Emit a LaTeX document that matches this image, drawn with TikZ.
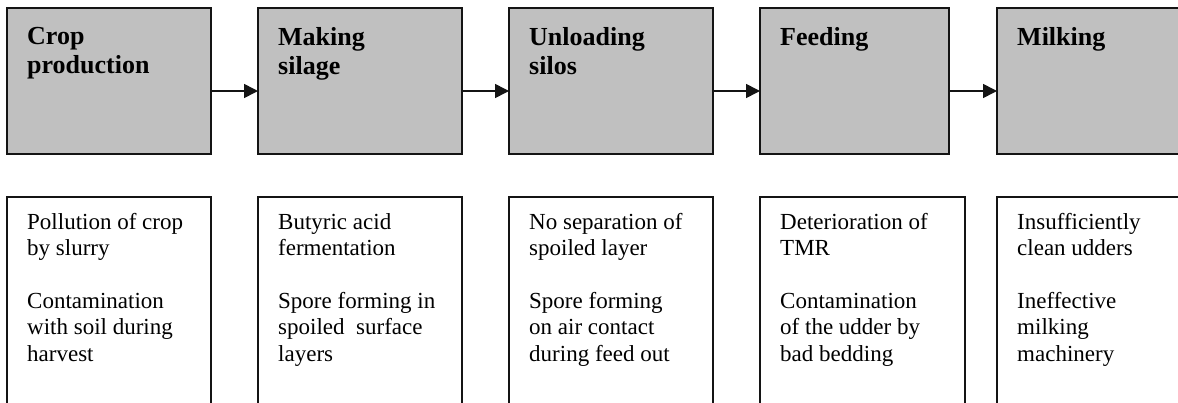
\documentclass[tikz,border=0pt]{standalone}
\usepackage{fontspec}
\setmainfont{Liberation Serif}
\usepackage{tikz}
\usetikzlibrary{
  arrows.meta,
  positioning
}
\definecolor{StageGray}{RGB}{192,192,192}
\definecolor{EdgeBlack}{RGB}{20,20,20}
\tikzset{
  stagebox/.style={draw=EdgeBlack,fill=StageGray,line width=1.6pt,outer sep=0pt,minimum height=146pt,minimum width=204pt},
  riskbox/.style={draw=EdgeBlack,fill=white,line width=1.6pt,outer sep=0pt,minimum height=230pt,minimum width=204pt},
  headtext/.style={inner sep=0pt,align=left,font=\fontsize{26}{29}\selectfont\bfseries},
  risktext/.style={inner sep=0pt,align=left,font=\fontsize{23}{26.5}\selectfont},
  flowarrow/.style={-{Triangle[length=14pt,width=14pt]},line width=1.6pt,draw=EdgeBlack}
}

\begin{document}
\begin{tikzpicture}[x=1pt,y=-1pt]
\useasboundingbox (0,0) rectangle (1178,402);
\clip (0,0) rectangle (1178,402);
\node[stagebox, anchor=north west] (crop) at (7,8) {};
\node[stagebox, right=47pt of crop] (silage) {};
\node[stagebox, right=47pt of silage] (unload) {};
\node[stagebox, right=47pt of unload, minimum width=189pt] (feed) {};
\node[stagebox, right=48pt of feed] (milk) {};
\node[riskbox, below=43pt of crop] (croprisk) {};
\node[riskbox, below=43pt of silage] (silagerisk) {};
\node[riskbox, below=43pt of unload] (unloadrisk) {};
\node[riskbox, below=43pt of feed.south west, anchor=north west, minimum width=205pt] (feedrisk) {};
\node[riskbox, below=43pt of milk.south west, anchor=north west] (milkrisk) {};
\node[headtext, below right=19pt and 20pt of crop.north west] (crophead) {Crop\\production};
\node[headtext, below right=19pt and 20pt of silage.north west] (silagehead) {Making\\silage};
\node[headtext, below right=19pt and 20pt of unload.north west] (unloadhead) {Unloading\\silos};
\node[headtext, below right=19pt and 20pt of feed.north west] (feedhead) {Feeding};
\node[headtext, below right=19pt and 20pt of milk.north west] (milkhead) {Milking};
\node[risktext, below right=16pt and 20pt of croprisk.north west] (croptext) {Pollution of crop\\by slurry\\[26pt]Contamination\\with soil during\\harvest};
\node[risktext, below right=16pt and 20pt of silagerisk.north west] (silagetext) {Butyric acid\\fermentation\\[26pt]Spore forming in\\spoiled\ \ surface\\layers};
\node[risktext, below right=16pt and 20pt of unloadrisk.north west] (unloadtext) {No separation of\\spoiled layer\\[26pt]Spore forming\\on air contact\\during feed out};
\node[risktext, below right=16pt and 20pt of feedrisk.north west] (feedtext) {Deterioration of\\TMR\\[26pt]Contamination\\of the udder by\\bad bedding};
\node[risktext, below right=16pt and 20pt of milkrisk.north west] (milktext) {Insufficiently\\clean udders\\[26pt]Ineffective\\milking\\machinery};
\draw[flowarrow] ([yshift=-10pt]crop.east) -- ([yshift=-10pt]silage.west);
\draw[flowarrow] ([yshift=-10pt]silage.east) -- ([yshift=-10pt]unload.west);
\draw[flowarrow] ([yshift=-10pt]unload.east) -- ([yshift=-10pt]feed.west);
\draw[flowarrow] ([yshift=-10pt]feed.east) -- ([yshift=-10pt]milk.west);
\end{tikzpicture}
\end{document}
